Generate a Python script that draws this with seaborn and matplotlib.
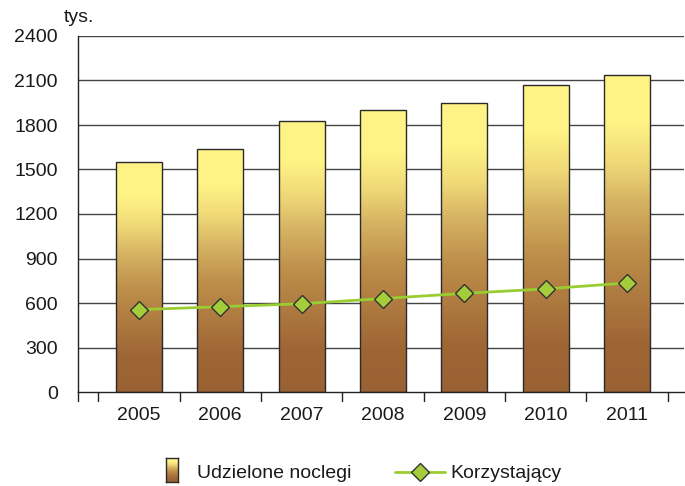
import numpy as np
import pandas as pd
import matplotlib
matplotlib.use("Agg")
import matplotlib.pyplot as plt
from matplotlib.colors import LinearSegmentedColormap
from matplotlib.lines import Line2D
import seaborn as sns

years = ["2005", "2006", "2007", "2008", "2009", "2010", "2011"]
noclegi = [1550, 1640, 1830, 1900, 1950, 2070, 2140]
korzystajacy = [555, 575, 595, 630, 665, 695, 735]
yticks = [0, 300, 600, 900, 1200, 1500, 1800, 2100, 2400]

sns.set_style("white")
plt.rcParams["font.family"] = ["Liberation Sans", "DejaVu Sans"]

df = pd.DataFrame({"rok": years, "noclegi": noclegi, "korz": korzystajacy})

fig = plt.figure(figsize=(6.85, 4.86), dpi=100)
ax = fig.add_axes([78/685, 1-392/486, (684-78)/685, (392-36)/486])

cmap = LinearSegmentedColormap.from_list("bar", [
    (0.0, "#9A6132"), (0.15, "#9E6535"), (0.45, "#BE8F4A"), (0.6, "#D6B363"),
    (0.72, "#EFD877"), (0.85, "#FFF385"), (1.0, "#FFF487")])

sns.barplot(data=df, x="rok", y="noclegi", ax=ax, width=0.565, color="#C8A050",
            edgecolor="#2a2a2a", linewidth=1.0, zorder=2)

grad = np.linspace(0, 1, 256).reshape(-1, 1)
for p in ax.patches:
    x0, y0 = p.get_x(), p.get_y()
    w, h = p.get_width(), p.get_height()
    p.set_facecolor("none")
    im = ax.imshow(grad, cmap=cmap, origin="lower", aspect="auto",
                   extent=[x0, x0 + w, y0, y0 + h], zorder=1.9)
    im.set_clip_path(p)

sns.pointplot(data=df, x="rok", y="korz", ax=ax, color="#9ACD32", markers="D",
              linestyles="-", markersize=9, linewidth=2)
for ln in ax.lines:
    ln.set_markeredgecolor("#333333")
    ln.set_markerfacecolor("#A5CD39")
    ln.set_markeredgewidth(1.0)
    ln.set_zorder(4)

ax.set_xlim(-0.748, 6.70)
ax.set_ylim(0, 2400)
ax.set_yticks(yticks)
ax.set_yticklabels([str(v) for v in yticks], fontsize=14, color="#1a1a1a")
ax.set_xticks(range(len(years)))
ax.set_xticklabels(years, fontsize=14, color="#1a1a1a")
ax.tick_params(axis="x", length=0, pad=11)
ax.tick_params(axis="y", length=5, direction="inout", width=1, color="#222222", pad=12)
ax.set_xlabel("")
ax.set_ylabel("")
for v in yticks[1:]:
    ax.axhline(v, color="#444444", lw=1.0, zorder=0.5)
for b in np.arange(-0.5, 7.0, 1.0):
    ax.plot([b, b], [0, -0.026], transform=ax.get_xaxis_transform(), color="#222222",
            lw=1, clip_on=False)
ax.plot([-0.748, -0.748], [0, -0.026], transform=ax.get_xaxis_transform(), color="#222222",
        lw=1, clip_on=False)
for s in ["top", "right"]:
    ax.spines[s].set_visible(False)
ax.spines["left"].set_color("#222222")
ax.spines["bottom"].set_color("#222222")
ax.spines["left"].set_linewidth(1)
ax.spines["bottom"].set_linewidth(1)

fig.text(64/685, 1-17/486, "tys.", fontsize=14, color="#1a1a1a", va="center", ha="left")

# legend
lax = fig.add_axes([166/685, 1-482/486, 12/685, 24/486])
lax.imshow(grad, cmap=cmap, origin="lower", aspect="auto", extent=[0, 1, 0, 1])
lax.set_xticks([]); lax.set_yticks([])
for s in lax.spines.values():
    s.set_color("#2a2a2a"); s.set_linewidth(1)
fig.text(197/685, 1-473/486, "Udzielone noclegi", fontsize=14, color="#1a1a1a", va="center")
fig.add_artist(Line2D([395/685, 445/685], [1-472/486, 1-472/486], color="#9ACD32", lw=2,
                      transform=fig.transFigure))
fig.add_artist(Line2D([420/685], [1-472/486], marker="D", markersize=9, color="#A5CD39",
                      markeredgecolor="#333333", markeredgewidth=1, transform=fig.transFigure))
fig.text(450/685, 1-473/486, "Korzystający", fontsize=14, color="#1a1a1a", va="center")

fig.savefig("out.png", dpi=100)
